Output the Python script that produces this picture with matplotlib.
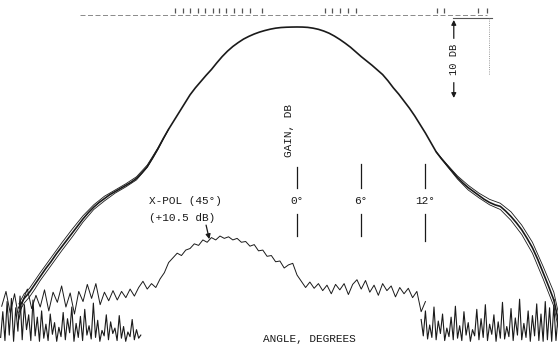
import numpy as np
import matplotlib.pyplot as plt

# main beam (angle in degrees, gain in dB rel. peak), -26 .. 24 deg in 0.5 deg steps
beam_db = [-36.0, -34.8, -34.0, -33.0, -32.0, -31.0, -30.1, -29.1, -28.2, -27.3,
           -26.4, -25.5, -24.6, -23.8, -23.1, -22.5, -22.0, -21.5, -21.1, -20.7,
           -20.3, -19.9, -19.4, -18.7, -17.9, -16.8, -15.6, -14.3, -13.1, -12.0,
           -10.9, -9.8, -8.7, -7.8, -7.0, -6.2, -5.45, -4.6, -3.8, -3.1,
           -2.5, -2.0, -1.55, -1.2, -0.9, -0.65, -0.45, -0.28, -0.15, -0.07,
           -0.03, -0.01, 0.0, -0.01, -0.05, -0.15, -0.3, -0.52, -0.8, -1.17,
           -1.6, -2.08, -2.6, -3.2, -3.8, -4.35, -4.9, -5.5, -6.1, -6.9,
           -7.8, -8.6, -9.5, -10.4, -11.4, -12.5, -13.6, -14.8, -16.0, -16.9,
           -17.7, -18.5, -19.3, -20.0, -20.6, -21.1, -21.6, -22.1, -22.5, -22.8,
           -23.0, -23.6, -24.3, -25.1, -26.0, -27.1, -28.3, -29.8, -31.5, -33.2,
           -35.0]
beam_angle = np.linspace(-26.0, 24.0, len(beam_db))
beam_end_angle = [24.0, 24.4]
beam_end_db = [-35.0, -37.5]

# the two other cuts split off from the main cut on the shoulders
left_angle = [-26, -25.5, -25, -24.5, -24, -23, -22, -21, -20, -19, -18, -17, -16, -15, -14, -13, -12]
left_b = [-35.5, -34.2, -33.5, -32.5, -31.5, -29.6, -27.7, -25.9, -24.2, -22.8,
          -21.7, -20.9, -20.1, -19.2, -17.7, -15.5, -13.1]
left_c = [-36.6, -35.4, -34.6, -33.6, -32.5, -30.6, -28.7, -26.9, -25.0, -23.4,
          -22.3, -21.3, -20.5, -19.6, -18.0, -15.7, -13.1]
right_angle = [13, 14, 15, 16, 17, 18, 19, 20, 21, 22, 23, 24, 24.4]
right_b = [-16.0, -17.6, -19.1, -20.3, -21.3, -22.1, -22.6, -23.7, -25.4, -27.6,
           -30.7, -34.0, -36.5]
right_c = [-16.0, -17.8, -19.5, -20.9, -21.9, -22.8, -23.4, -24.8, -26.6, -29.0,
           -32.3, -35.8, -38.5]

# cross-pol (45 deg) trace, -27.6 .. 12.0 deg
xpol_db = [-35.8, -33.9, -36.7, -34.2, -37.5, -35.0, -33.6, -36.1, -34.4, -35.9,
           -33.7, -36.4, -34.0, -35.3, -33.2, -35.9, -34.1, -36.8, -33.9, -35.2,
           -33.0, -34.8, -32.9, -35.6, -34.0, -35.1, -33.8, -35.0, -33.9, -34.7,
           -33.6, -34.5, -33.4, -32.6, -33.6, -32.9, -33.4, -32.3, -31.5, -30.2,
           -29.6, -29.0, -29.3, -28.6, -28.4, -27.8, -28.0, -27.3, -27.6, -27.0,
           -27.3, -26.8, -27.1, -26.9, -27.3, -27.1, -27.6, -27.5, -28.1, -27.9,
           -28.7, -28.6, -29.4, -29.3, -30.1, -30.0, -30.9, -30.5, -30.3, -31.8,
           -32.6, -33.4, -32.7, -33.5, -32.9, -33.8, -33.1, -34.2, -33.0, -33.7,
           -32.9, -34.3, -33.0, -32.4, -33.6, -32.5, -34.0, -33.1, -34.4, -32.9,
           -33.8, -33.2, -34.6, -33.4, -34.2, -33.5, -34.7, -33.9, -36.5, -35.2]
xpol_angle = np.linspace(-27.6, 12.0, len(xpol_db))

# receiver noise floor at both ends
floor_left = [-39.8, -36.5, -40.2, -35.2, -39.5, -34.8, -40.3, -36.0, -39.0, -34.5,
              -40.1, -35.6, -38.8, -36.9, -40.2, -35.0, -39.6, -37.2, -40.3, -36.4,
              -39.9, -38.1, -40.2, -36.8, -39.4, -37.9, -40.3, -38.5, -39.7, -36.6,
              -40.1, -37.4, -39.2, -35.9, -40.3, -38.0, -39.8, -37.1, -40.2, -36.2,
              -39.5, -38.3, -40.0, -35.4, -39.8, -37.6, -40.3, -38.9, -39.6, -36.9,
              -40.1, -37.8, -39.3, -38.6, -40.2, -37.0, -39.9, -38.4, -40.3, -39.1,
              -39.7, -37.5, -40.1, -38.8, -39.9, -39.5]
floor_right = [-37.5, -39.6, -36.4, -40.0, -38.2, -39.8, -35.9, -40.1, -37.7, -39.3,
               -36.8, -40.2, -38.6, -39.7, -37.2, -40.1, -35.8, -39.9, -38.3, -40.2,
               -36.5, -39.5, -37.9, -40.3, -38.8, -39.6, -36.2, -40.1, -37.4, -39.8,
               -35.6, -40.2, -38.1, -39.4, -36.9, -40.3, -37.8, -39.9, -35.3, -40.0,
               -38.4, -39.7, -36.1, -40.2, -37.3, -39.5, -34.9, -40.1, -38.0, -39.8,
               -36.4, -40.3, -37.0, -39.6, -35.5, -40.2, -36.8, -40.3, -35.2, -40.1,
               -36.0, -40.3, -35.7, -40.2, -37.0]
floor_left_angle = np.linspace(-27.7, -14.6, len(floor_left))
floor_right_angle = np.linspace(11.6, 24.4, len(floor_right))

angle_marks = [0, 6, 12]
angle_labels = ['0°', '6°', '12°']
top_marks = [-11.4, -10.7, -10.0, -9.3, -8.6, -7.9, -7.3, -6.6, -5.9, -5.1, -4.4, -3.3,
             2.6, 3.3, 4.0, 4.8, 5.5, 13.1, 13.7, 16.9, 17.8]

plt.rcParams['font.family'] = ['Liberation Mono', 'DejaVu Sans']
ink = '#1a1a1a'

fig = plt.figure(figsize=(5.58, 3.45), dpi=100)
ax = fig.add_axes([0, 0, 1, 1])
ax.set_xlim(-27.76, 24.39)
ax.set_ylim(-40.77, 3.46)
ax.axis('off')

# patterns
ax.plot(left_angle, left_b, color=ink, lw=0.6)
ax.plot(left_angle, left_c, color=ink, lw=0.6)
ax.plot(right_angle, right_b, color=ink, lw=0.6)
ax.plot(right_angle, right_c, color=ink, lw=0.6)
ax.plot(beam_angle, beam_db, color=ink, lw=1.2)
ax.plot(beam_end_angle, beam_end_db, color=ink, lw=1.2)
ax.plot(xpol_angle, xpol_db, color=ink, lw=0.7)
ax.plot(floor_left_angle, floor_left, color=ink, lw=0.8)
ax.plot(floor_right_angle, floor_right, color=ink, lw=0.8)

# faint top reference line with scale marks
ax.plot([-20.3, 17.8], [1.54, 1.54], color='#777777', lw=0.6, ls=(0, (6, 3)))
ax.vlines(top_marks, 1.85, 2.4, color='#555555', lw=0.9)

# 10 dB scale at upper right
ax.plot([14.6, 18.2], [1.15, 1.15], color='#555555', lw=0.8)
ax.plot([17.9, 17.9], [1.15, -6.2], color='#777777', lw=0.6, ls=':')
ax.annotate('', xy=(14.65, -9.1), xytext=(14.65, 0.9),
            arrowprops=dict(arrowstyle='<|-|>', color=ink, lw=0.9,
                            mutation_scale=7, shrinkA=0, shrinkB=0))
ax.text(14.65, -4.2, '10 DB', rotation=90, ha='center', va='center',
        fontsize=7.5, color=ink, backgroundcolor='white')

# angle markers
for a, lab in zip(angle_marks, angle_labels):
    top = -17.6 if a else -17.9
    ax.plot([a, a], [top, -20.6], color=ink, lw=0.9)
    ax.plot([a, a], [-24.0, -27.4 if a == 12 else -26.8], color=ink, lw=0.9)
    ax.text(a, -22.3, lab, ha='center', va='center', fontsize=8, color=ink)

ax.text(-0.75, -13.3, 'GAIN, DB', rotation=90, ha='center', va='center',
        fontsize=8, color=ink)
ax.text(-13.8, -22.3, 'X-POL (45°)', ha='left', va='center', fontsize=8, color=ink)
ax.text(-13.8, -24.5, '(+10.5 dB)', ha='left', va='center', fontsize=8, color=ink)
ax.annotate('', xy=(-8.2, -27.2), xytext=(-8.5, -25.4),
            arrowprops=dict(arrowstyle='-|>', color=ink, lw=0.9,
                            mutation_scale=7, shrinkA=0, shrinkB=0))
ax.text(1.2, -40.0, 'ANGLE, DEGREES', ha='center', va='center', fontsize=8, color=ink)

fig.savefig('out.png', dpi=100)
